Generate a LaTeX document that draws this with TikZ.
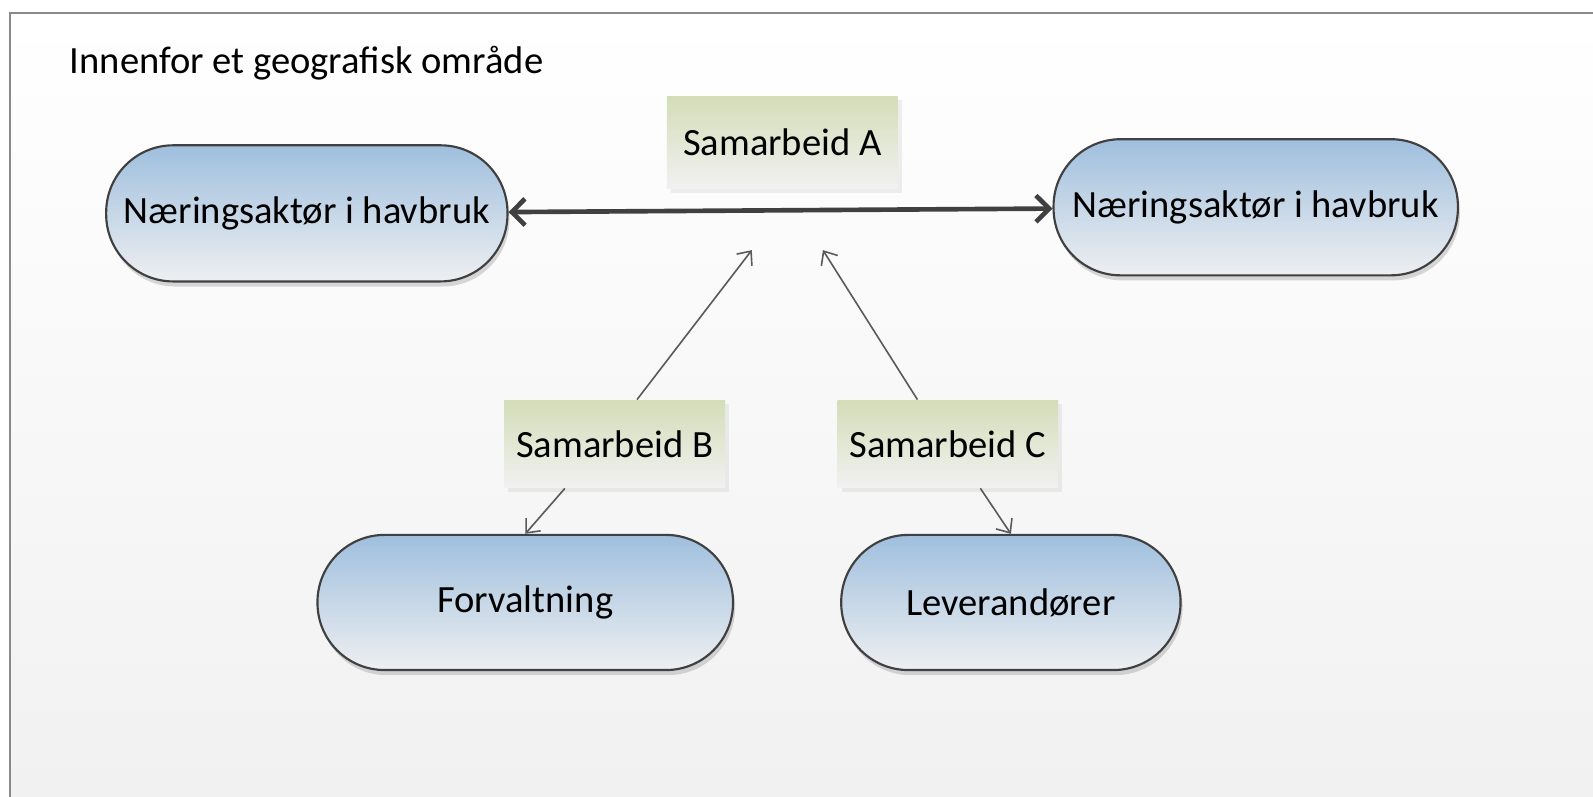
\documentclass[tikz,border=0pt]{standalone}
\usepackage{fontspec}
\setmainfont{Carlito}
\usepackage{xcolor}
\definecolor{havDark}{HTML}{404040}
\definecolor{havLine}{HTML}{5A5A5A}
\definecolor{havFrame}{HTML}{8A8A8A}
\definecolor{havBlue}{HTML}{9FBFDE}
\definecolor{havPale}{HTML}{EEEFF1}
\definecolor{havOlive}{HTML}{D4DDB8}
\definecolor{havGray}{HTML}{F1F1F1}
\definecolor{havBack}{HTML}{F1F1F1}
\usepackage{tikz}
\usetikzlibrary{arrows.meta,positioning,shadows}
\tikzset{
    actor/.style={
        draw=havDark,
        top color=havBlue,
        bottom color=havPale,
        rectangle,
        rounded corners=6.6mm,
        align=center,
        minimum height=1.34cm,
        minimum width=3.95cm,
        line width=0.6pt,
        drop shadow={opacity=0.3, shadow xshift=0.2mm, shadow yshift=-0.5mm},
        font=\fontsize{10.8}{13}\selectfont
    },
    coop/.style={
        top color=havOlive,
        bottom color=havGray,
        rectangle,
        align=center,
        minimum height=0.86cm,
        minimum width=2.12cm,
        drop shadow={opacity=0.12, shadow xshift=0.4mm, shadow yshift=-0.4mm},
        font=\fontsize{10.8}{13}\selectfont
    },
    heading/.style={
        font=\fontsize{10.8}{13}\selectfont,
        inner sep=0pt
    },
    arrow/.style={
        -{Straight Barb[length=1.1mm,width=1.9mm]},
        line width=0.45pt,
        color=havLine
    },
    bigarrow/.style={
        {Straight Barb[length=1.3mm,width=2.6mm]}-{Straight Barb[length=1.3mm,width=2.6mm]},
        line width=1.3pt,
        color=havDark
    }
}

\begin{document}
\begin{tikzpicture}
    % Page and frame
    \useasboundingbox (0,0) rectangle (15.68,-7.84);
    \fill[white] (0,0) rectangle (15.68,-7.84);
    \fill[top color=white, bottom color=havBack] (0.10,-0.13) rectangle (15.68,-7.84);
    \draw[havFrame, line width=0.7pt] (0.10,-7.84) -- (0.10,-0.13) -- (15.68,-0.13);

    % Area title
    \node[heading, anchor=base west] (title) at (0.68,-0.72) {Innenfor et geografisk område};

    % Actors
    \node[actor] (leftAkt) at (3.02,-2.10) {Næringsaktør i havbruk};
    \node[actor, minimum width=3.98cm] (rightAkt) at (12.36,-2.04) {Næringsaktør i havbruk};
    \node[actor, minimum width=4.09cm, minimum height=1.33cm] (forv) at (5.17,-5.93) {Forvaltning};
    \node[actor, minimum width=3.34cm, minimum height=1.33cm] (lev) at (9.95,-5.93) {Leverandører};

    % Cooperation labels
    \node[coop, minimum width=2.27cm, minimum height=0.91cm] (samA) at (7.70,-1.40) {Samarbeid A};
    \node[coop, minimum width=2.10cm] (samB) at (6.05,-4.37) {Samarbeid B};
    \node[coop, minimum width=2.14cm] (samC) at (9.33,-4.37) {Samarbeid C};

    % Arrow targets below Samarbeid A
    \coordinate[below left=0.60cm and 0.30cm of samA.south] (aimB);
    \coordinate[below right=0.60cm and 0.40cm of samA.south] (aimC);

    % Connections
    \draw[bigarrow] (leftAkt) -- (rightAkt);
    \draw[arrow] ([xshift=2.2mm]samB.north) -- (aimB);
    \draw[arrow] ([xshift=-3mm]samC.north) -- (aimC);
    \draw[arrow] ([xshift=-4.9mm]samB.south) -- (forv.north);
    \draw[arrow] ([xshift=3.2mm]samC.south) -- (lev.north);
\end{tikzpicture}
\end{document}
